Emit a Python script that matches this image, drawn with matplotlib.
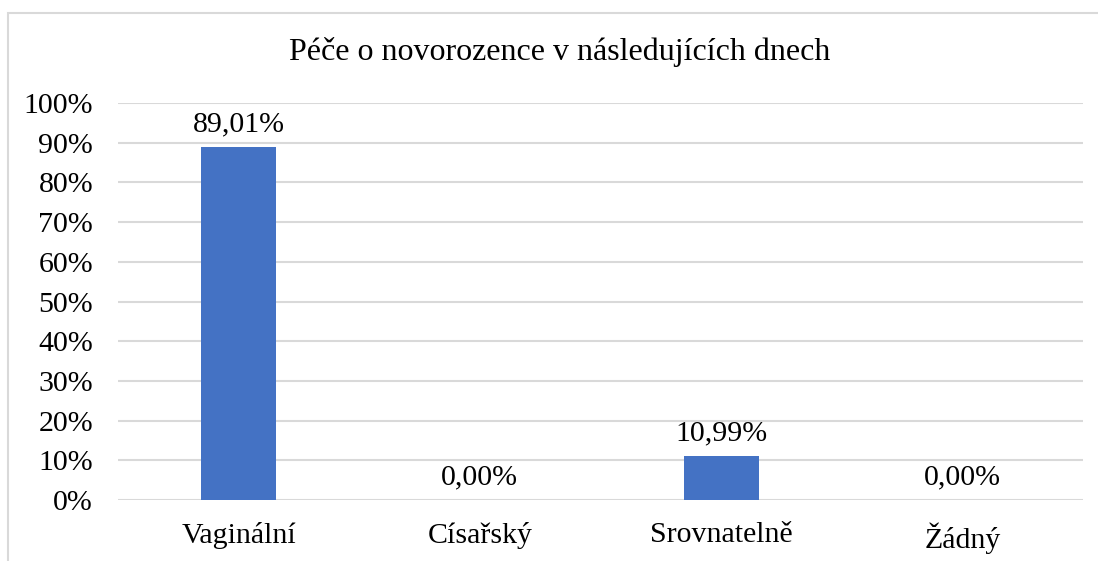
import matplotlib
matplotlib.use("Agg")
import matplotlib.pyplot as plt
from matplotlib.patches import Rectangle

categories = ["Vaginální", "Císařský", "Srovnatelně", "Žádný"]
values = [89.01, 0.00, 10.99, 0.00]
title = "Péče o novorozence v následujících dnech"

plt.rcParams["font.family"] = ["Liberation Serif", "DejaVu Serif"]
FS = 21.5

fig = plt.figure(figsize=(10.98, 5.61), dpi=100)
fig.patches.append(Rectangle((8 / 1098, -0.1), 1.2, 1 - 13 / 561 + 0.1,
                             transform=fig.transFigure, fill=False,
                             edgecolor="#D9D9D9", lw=1.5))
ax = fig.add_axes([118 / 1098, 1 - 500 / 561, 965 / 1098, 397 / 561])

x = range(len(categories))
ax.bar(x, values, width=0.31, color="#4472C4", zorder=3)
for i, v in enumerate(values):
    ax.annotate(f"{v:.2f}%".replace(".", ","), (i, v), xytext=(0, 7),
                textcoords="offset points", ha="center", va="bottom", fontsize=FS)

ax.set_xlim(-0.5, len(categories) - 0.5)
ax.set_ylim(0, 100)
ax.set_yticks(range(0, 101, 10))
ax.set_yticklabels([f"{t}%" for t in range(0, 101, 10)])
ax.set_xticks(list(x))
ax.set_xticklabels(categories)
ax.tick_params(axis="both", length=0, labelsize=FS)
ax.tick_params(axis="y", pad=18)
ax.tick_params(axis="x", pad=16)
ax.grid(axis="y", color="#D9D9D9", lw=1.5, zorder=0)
for s in ax.spines.values():
    s.set_visible(False)

fig.text(560 / 1098, 1 - 52 / 561, title, ha="center", va="center", fontsize=23)
fig.savefig("out.png", dpi=100)
